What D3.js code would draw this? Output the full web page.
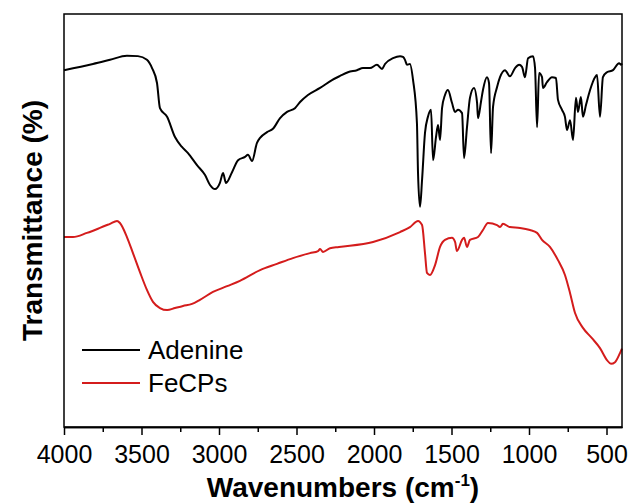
<!DOCTYPE html>
<html>
<head>
  <meta charset="utf-8" />
<style>
  body {
    margin: 0;
    background: #fff;
  }
  svg text {
    font-family: "Liberation Sans", Arial, sans-serif;
  }
  .axis path, .axis line {
    stroke: #000;
    stroke-width: 1.5;
  }
  .axis text {
    font-size: 25px;
    fill: #000;
  }
  .title {
    font-size: 28px;
    font-weight: bold;
  }
  .legend {
    font-size: 26px;
  }
</style>
</head>
<body>
<div id="chart"></div>
<script src="https://cdn.jsdelivr.net/npm/d3@7"></script>
<script>
// wavenumber (cm-1) and transmittance (arbitrary %)
var adenineWn = [4000, 3813, 3703, 3594, 3523, 3465, 3432, 3400, 3381, 3335, 3284, 3239, 3200, 3142,
  3090, 3058, 3026, 2994, 2974, 2955, 2916, 2877, 2832, 2813, 2787, 2755, 2735, 2690, 2652, 2606,
  2561, 2510, 2477, 2426, 2348, 2271, 2219, 2168, 2110, 2071, 2026, 1981, 1948, 1929, 1877, 1832,
  1813, 1800, 1787, 1768, 1748, 1723, 1716, 1703, 1690, 1671, 1652, 1632, 1619, 1600, 1587, 1574,
  1561, 1542, 1523, 1497, 1477, 1458, 1432, 1419, 1400, 1381, 1355, 1335, 1329, 1310, 1297, 1271,
  1258, 1245, 1232, 1206, 1187, 1155, 1123, 1090, 1064, 1045, 1026, 1006, 974, 961, 948, 935,
  916, 910, 884, 852, 826, 813, 787, 768, 755, 735, 716, 697, 684, 665, 652, 632,
  606, 574, 561, 542, 523, 497, 458, 419, 406, 400];
var adenineT = [86.4, 87.9, 88.9, 89.9, 89.8, 88.9, 86.9, 83.3, 77.2, 75.1, 70.2, 67.8, 66.3, 63.4,
  61.0, 58.6, 57.6, 59.1, 61.5, 59.1, 61.7, 64.6, 65.4, 65.9, 64.4, 68.8, 70.0, 71.4, 72.2, 74.8,
  76.3, 77.2, 78.7, 80.4, 82.1, 84.0, 85.0, 85.9, 86.4, 86.9, 86.9, 87.7, 86.7, 87.9, 89.3, 89.8,
  89.6, 88.9, 87.7, 87.9, 84.0, 73.6, 61.5, 53.3, 59.8, 71.2, 75.1, 76.8, 64.6, 70.2, 73.1, 69.5,
  77.2, 80.4, 81.6, 78.5, 76.3, 76.8, 76.0, 65.1, 72.6, 79.7, 82.1, 78.5, 74.8, 78.7, 81.6, 84.7,
  83.3, 66.3, 77.5, 82.3, 84.7, 86.4, 84.9, 86.9, 87.7, 87.2, 84.7, 89.3, 89.8, 86.9, 72.6, 85.7,
  84.7, 82.1, 83.5, 84.7, 84.5, 79.2, 76.8, 75.1, 71.9, 74.3, 69.5, 79.7, 76.3, 79.9, 75.1, 78.0,
  81.6, 84.7, 85.2, 75.1, 84.7, 85.9, 86.4, 88.1, 87.7, 88.0];

var fecpWn = [4000, 3942, 3852, 3768, 3703, 3658, 3639, 3594, 3555, 3510, 3465, 3426, 3381, 3335,
  3284, 3232, 3174, 3123, 3039, 2948, 2865, 2735, 2626, 2523, 2413, 2361, 2348, 2329, 2284, 2226,
  2006, 1832, 1768, 1716, 1690, 1671, 1658, 1639, 1606, 1574, 1542, 1497, 1477, 1465, 1432, 1419,
  1400, 1381, 1329, 1297, 1265, 1206, 1187, 1168, 1123, 1058, 994, 948, 916, 865, 813, 768,
  735, 703, 652, 594, 542, 497, 471, 445, 413, 400];
var fecpT = [46.0, 46.0, 47.0, 48.2, 49.2, 49.9, 49.4, 46.0, 42.1, 37.5, 33.2, 30.3, 28.8, 28.3,
  28.8, 29.3, 29.8, 30.8, 32.7, 34.1, 35.4, 38.0, 39.5, 40.9, 42.1, 42.6, 43.1, 42.4, 43.3, 43.6,
  44.8, 47.2, 48.4, 49.9, 48.9, 42.1, 37.3, 36.8, 39.2, 43.6, 45.3, 45.8, 44.8, 42.6, 45.3, 45.8,
  43.6, 45.3, 46.0, 47.7, 49.4, 48.9, 48.4, 49.2, 48.4, 48.2, 47.7, 47.0, 45.3, 43.6, 40.4, 36.8,
  32.4, 27.6, 24.0, 21.5, 19.1, 16.2, 15.3, 15.7, 17.9, 19.0];

var majorTicks = [4000, 3500, 3000, 2500, 2000, 1500, 1000, 500];
var minorTicks = [3750, 3250, 2750, 2250, 1750, 1250, 750];
var seriesNames = ["Adenine", "FeCPs"];
var seriesColors = ["#000000", "#d41c1c"];

var width = 630, height = 504;
var margin = {top: 14, right: 8, bottom: 77, left: 64};
var w = width - margin.left - margin.right;
var h = height - margin.top - margin.bottom;

var svg = d3.select("#chart").append("svg")
  .attr("width", width)
  .attr("height", height);

var g = svg.append("g")
  .attr("transform", "translate(" + margin.left + "," + margin.top + ")");

var x = d3.scaleLinear().domain([4000, 400]).range([0, w]);
var y = d3.scaleLinear().domain([0, 100]).range([h, 0]);

var line = d3.line()
  .curve(d3.curveMonotoneX)
  .x(function(d) { return x(d[0]); })
  .y(function(d) { return y(d[1]); });

var series = [d3.zip(adenineWn, adenineT), d3.zip(fecpWn, fecpT)];

g.selectAll("path.curve")
  .data(series)
  .enter()
  .append("path")
  .attr("class", "curve")
  .attr("d", line)
  .attr("fill", "none")
  .attr("stroke", function(d, i) { return seriesColors[i]; })
  .attr("stroke-width", 2)
  .attr("stroke-linejoin", "round");

// frame
g.append("rect")
  .attr("width", w)
  .attr("height", h)
  .attr("fill", "none")
  .attr("stroke", "#000")
  .attr("stroke-width", 1.5);

var xAxis = g.append("g")
  .attr("class", "axis")
  .attr("transform", "translate(0," + h + ")")
  .call(d3.axisBottom(x).tickValues(majorTicks).tickFormat(d3.format("d"))
    .tickSize(8).tickSizeOuter(0).tickPadding(10));
xAxis.selectAll("text").attr("dy", "0.71em");

g.append("g")
  .attr("class", "axis")
  .attr("transform", "translate(0," + h + ")")
  .call(d3.axisBottom(x).tickValues(minorTicks).tickSize(5).tickSizeOuter(0).tickFormat(""));

// axis titles
var xt = svg.append("text")
  .attr("class", "title")
  .attr("x", margin.left + w / 2)
  .attr("y", 497)
  .attr("text-anchor", "middle");
xt.append("tspan").text("Wavenumbers (cm");
xt.append("tspan").attr("dy", -11).attr("font-size", "17px").text("-1");
xt.append("tspan").attr("dy", 11).text(")");

svg.append("text")
  .attr("class", "title")
  .attr("transform", "translate(42," + (margin.top + h / 2) + ") rotate(-90)")
  .attr("text-anchor", "middle")
  .text("Transmittance (%)");

// legend
var legend = svg.selectAll("g.legend")
  .data(seriesNames)
  .enter()
  .append("g")
  .attr("class", "legend")
  .attr("transform", function(d, i) { return "translate(82," + (350 + i * 33) + ")"; });

legend.append("line")
  .attr("x1", 0).attr("x2", 58)
  .attr("stroke", function(d, i) { return seriesColors[i]; })
  .attr("stroke-width", 2);

legend.append("text")
  .attr("x", 66)
  .attr("y", 9)
  .text(function(d) { return d; });
</script>
</body>
</html>
